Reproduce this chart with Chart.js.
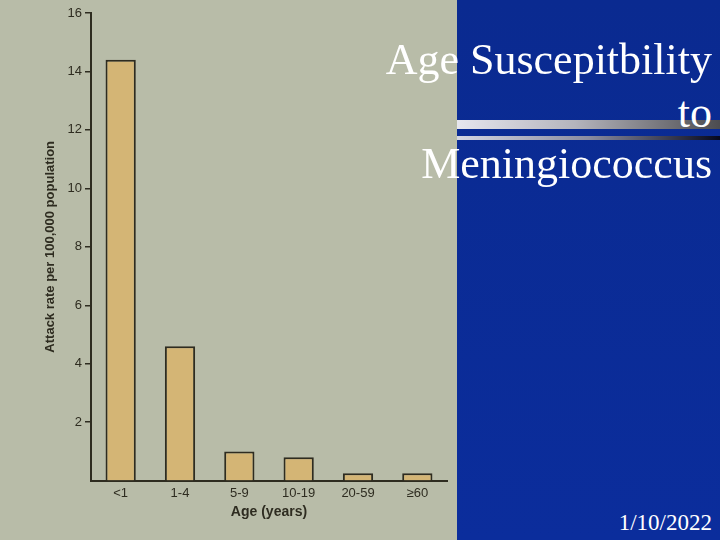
<!DOCTYPE html>
<html>
<head>
<meta charset="utf-8">
<title>Age Suscepitbility to Meningiococcus</title>
<script src="https://cdn.jsdelivr.net/npm/chart.js@4.4.0/dist/chart.umd.min.js"></script>
<style>
  html, body { margin: 0; padding: 0; }
  body { width: 720px; height: 540px; position: relative; overflow: hidden; background: #b8bca8; }
  #chart { position: absolute; left: 0; top: 0; }
  .panel { position: absolute; left: 457px; top: 0; width: 263px; height: 540px;
           background: linear-gradient(180deg, #0a2a90 0%, #0b2d9c 100%); }
  .rule-thick { position: absolute; left: 457px; top: 120px; width: 263px; height: 9px;
                background: linear-gradient(90deg, #e6e6ee 0%, #b4b4bc 45%, #4c4c50 100%); }
  .rule-thin  { position: absolute; left: 457px; top: 136px; width: 263px; height: 4px;
                background: linear-gradient(90deg, #d4d6e2 0%, #8a8ca0 50%, #05081e 100%); }
  .title-line { position: absolute; right: 8px; color: #fff; white-space: nowrap;
                font-family: 'Liberation Serif', 'Times New Roman', serif; font-size: 44px; line-height: 44px; }
  .date { position: absolute; right: 8px; top: 511px; color: #fff;
          font-family: 'Liberation Serif', 'Times New Roman', serif; font-size: 23px; line-height: 23px; }
</style>
</head>
<body>
<canvas id="chart" width="457" height="540"></canvas>
<div class="panel"></div>
<div class="rule-thick"></div>
<div class="rule-thin"></div>
<div class="title-line" style="top:38px;">Age Suscepitbility</div>
<div class="title-line" style="top:91px;">to</div>
<div class="title-line" style="top:142px;">Meningiococcus</div>
<div class="date">1/10/2022</div>

<script>
  /* ── Data ─────────────────────────────────────────────────────── */
  const AGE_GROUPS   = ['<1', '1-4', '5-9', '10-19', '20-59', '≥60'];
  const ATTACK_RATES = [14.4, 4.6, 1.0, 0.8, 0.25, 0.25];   // per 100,000 population
  const Y_TICKS      = [2, 4, 6, 8, 10, 12, 14, 16];

  /* ── Style ────────────────────────────────────────────────────── */
  const INK  = '#2e2c20';
  const TAN  = '#d4b575';
  const FONT = "'Liberation Sans', Arial, sans-serif";

  new Chart(document.getElementById('chart'), {
    type: 'bar',
    data: {
      labels: AGE_GROUPS,
      datasets: [{
        data: ATTACK_RATES,
        backgroundColor: TAN,
        borderColor: INK,
        borderWidth: 2,
        borderSkipped: 'start',
        barPercentage: 0.51,
        categoryPercentage: 1,
      }],
    },
    options: {
      responsive: false,
      animation: false,
      layout: { padding: { left: 43, top: 13, right: 10, bottom: 19 } },
      plugins: { legend: { display: false }, tooltip: { enabled: false } },
      scales: {
        x: {
          grid: { display: false, drawTicks: false },
          border: { display: true, color: INK, width: 2 },
          ticks: { color: INK, font: { family: FONT, size: 13 }, padding: 5 },
          title: { display: true, text: 'Age (years)', color: INK,
                   font: { family: FONT, size: 14, weight: 'bold' }, padding: { top: -2, bottom: 0 } },
        },
        y: {
          min: 0, max: 16,
          afterBuildTicks: s => { s.ticks = Y_TICKS.map(v => ({ value: v })); },
          afterFit: s => { s.width = 48; },
          grid: { drawOnChartArea: false, drawTicks: true, tickLength: 6, color: INK, lineWidth: 1.5 },
          border: { display: true, color: INK, width: 2 },
          ticks: { color: INK, font: { family: FONT, size: 13 }, padding: 3 },
          title: { display: true, text: 'Attack rate per 100,000 population', color: INK,
                   font: { family: FONT, size: 13, weight: 'bold' }, padding: { top: 0, bottom: 0 } },
        },
      },
    },
  });
</script>
</body>
</html>
